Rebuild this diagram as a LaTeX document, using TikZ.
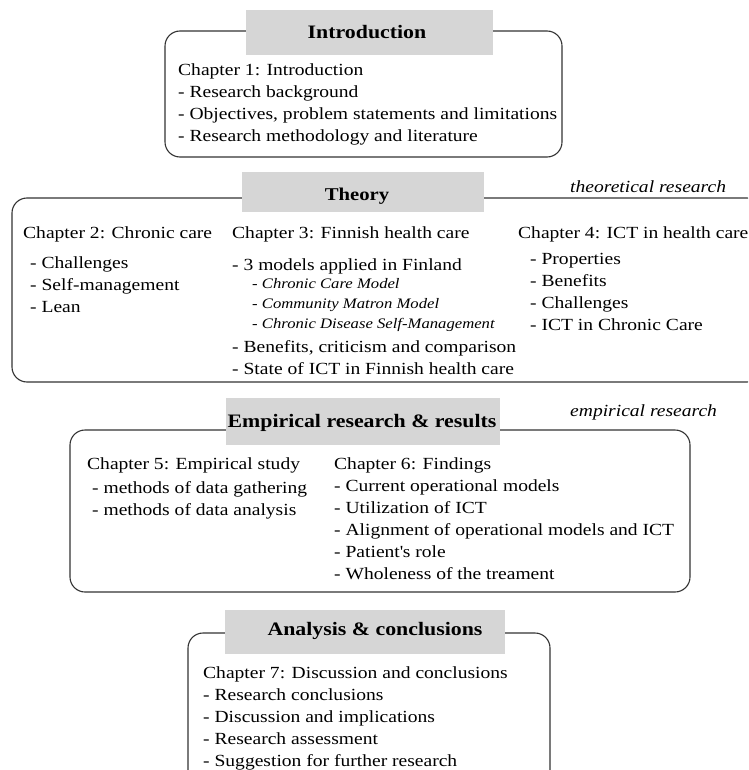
\documentclass[tikz,border=0pt]{standalone}
\usepackage{fontspec}
\setmainfont{Liberation Serif}[FakeStretch=1.15]
\begin{document}
\begin{tikzpicture}[x=1pt,y=-1pt,
  frame/.style={draw=black!80,line width=1.1pt,rounded corners=15pt},
  titlebox/.style={fill=titlegray,inner sep=0pt},
  titletext/.style={inner sep=0pt,font=\fontsize{19}{22}\selectfont\bfseries},
  txt/.style={anchor=west,inner sep=0pt,text height=14pt,text depth=2pt,font=\fontsize{17}{22}\selectfont},
  sub/.style={anchor=west,inner sep=0pt,text height=11pt,text depth=2pt,font=\fontsize{14.5}{18}\selectfont\itshape},
  note/.style={anchor=west,inner sep=0pt,font=\fontsize{17}{22}\selectfont\itshape}]
\definecolor{titlegray}{RGB}{214,214,214}
\useasboundingbox (0,0) rectangle (748,770);
\begin{scope}
\clip (0,0) rectangle (748,770);

% ---- Introduction ----
\draw[frame] (165,31) rectangle (562,157);
\node[titlebox,minimum width=247pt,minimum height=45pt] (bIntro) at (369.5,32.5) {};
\node[titletext] (tIntro) at (367,32) {Introduction};
\node[txt] (c1)  at (178,70)  {Chapter 1: Introduction};
\node[txt] (c1a) at (178,92)  {- Research background};
\node[txt] (c1b) at (178,114) {- Objectives, problem statements and limitations};
\node[txt] (c1c) at (178,136) {- Research methodology and literature};

% ---- Theory ----
\draw[frame] (12,198) rectangle (762,382);
\node[titlebox,minimum width=242pt,minimum height=40pt] (bTheory) at (363,192) {};
\node[titletext,font=\fontsize{18}{22}\selectfont\bfseries] (tTheory) at (357,196) {Theory};
\node[note] (nTheo) at (570,187) {theoretical research};

\node[txt] (c2)  at (23,232)  {Chapter 2: Chronic care};
\node[txt] (c2a) at (30,262)  {- Challenges};
\node[txt] (c2b) at (30,284)  {- Self-management};
\node[txt] (c2c) at (30,306)  {- Lean};

\node[txt] (c3)  at (232,232) {Chapter 3: Finnish health care};
\node[txt] (c3a) at (232,264) {- 3 models applied in Finland};
\node[sub] (c3b) at (252,284) {- Chronic Care Model};
\node[sub] (c3c) at (252,304) {- Community Matron Model};
\node[sub] (c3d) at (252,324) {- Chronic Disease Self-Management};
\node[txt] (c3e) at (232,346) {- Benefits, criticism and comparison};
\node[txt] (c3f) at (232,368) {- State of ICT in Finnish health care};

\node[txt] (c4)  at (518,232) {Chapter 4: ICT in health care};
\node[txt] (c4a) at (530,258) {- Properties};
\node[txt] (c4b) at (530,280) {- Benefits};
\node[txt] (c4c) at (530,302) {- Challenges};
\node[txt] (c4d) at (530,324) {- ICT in Chronic Care};

% ---- Empirical research ----
\draw[frame] (70,430) rectangle (690,592);
\node[titlebox,minimum width=274pt,minimum height=47pt] (bEmp) at (363,421.5) {};
\node[titletext] (tEmp) at (362,423) {Empirical research \& results};
\node[note] (nEmp) at (570,412) {empirical research};

\node[txt] (c5)  at (87,463)  {Chapter 5: Empirical study};
\node[txt] (c5a) at (92,487)  {- methods of data gathering};
\node[txt] (c5b) at (92,509)  {- methods of data analysis};

\node[txt] (c6)  at (334,463) {Chapter 6: Findings};
\node[txt] (c6a) at (334,485) {- Current operational models};
\node[txt] (c6b) at (334,507) {- Utilization of ICT};
\node[txt] (c6c) at (334,529) {- Alignment of operational models and ICT};
\node[txt] (c6d) at (334,551) {- Patient\textquotesingle s role};
\node[txt] (c6e) at (334,573) {- Wholeness of the treament};

% ---- Analysis & conclusions ----
\draw[frame] (188,633) rectangle (550,790);
\node[titlebox,minimum width=280pt,minimum height=44pt] (bAna) at (365,632) {};
\node[titletext] (tAna) at (375,631) {Analysis \& conclusions};
\node[txt] (c7)  at (203,672) {Chapter 7: Discussion and conclusions};
\node[txt] (c7a) at (203,694) {- Research conclusions};
\node[txt] (c7b) at (203,716) {- Discussion and implications};
\node[txt] (c7c) at (203,738) {- Research assessment};
\node[txt] (c7d) at (203,760) {- Suggestion for further research};
\end{scope}
\end{tikzpicture}
\end{document}
